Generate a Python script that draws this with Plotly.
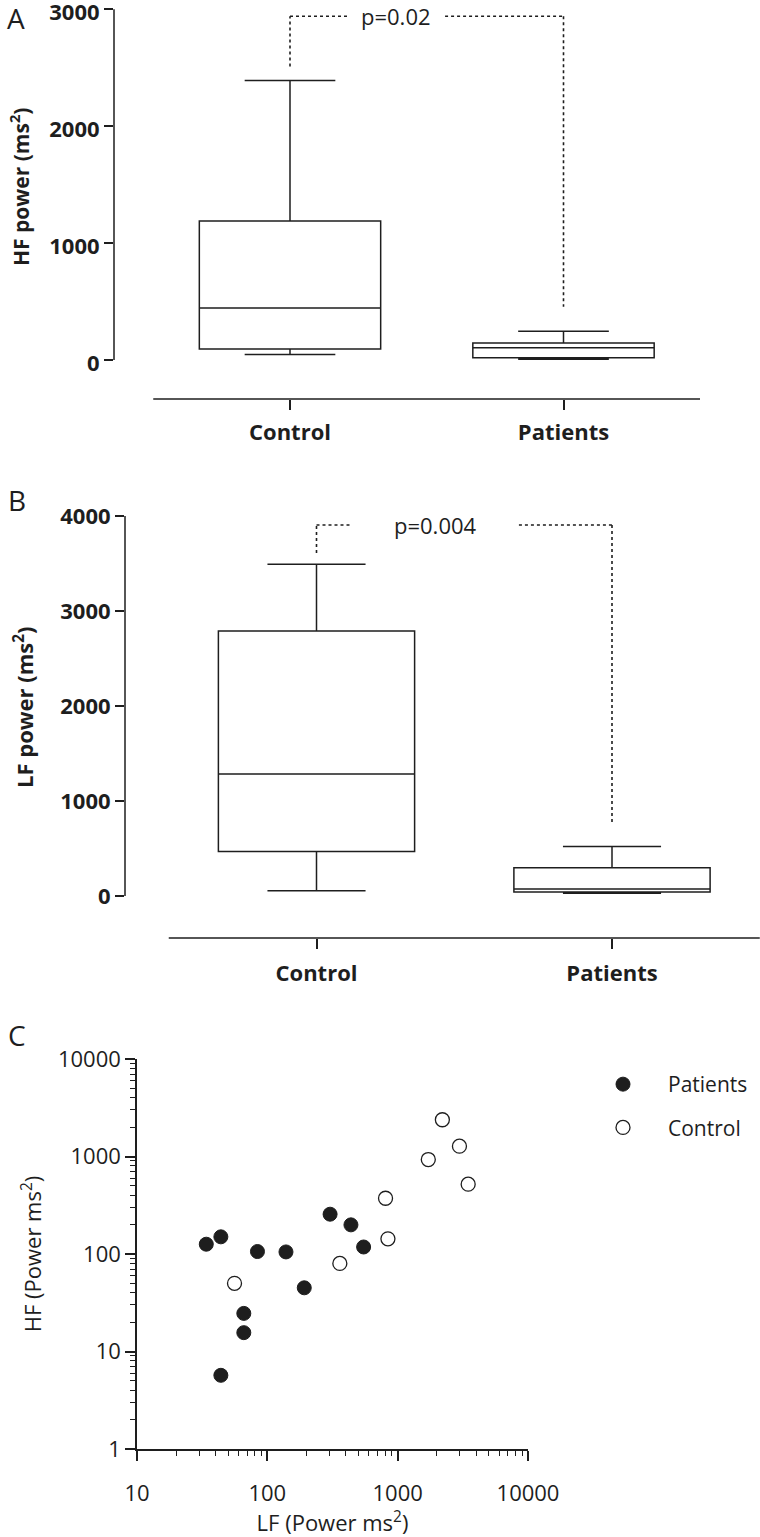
import plotly.graph_objects as go

W, H = 760, 1537

# ---------------- data ----------------
groups = ["Control", "Patients"]

# Panel A: HF power (ms^2)
hf_q1 = [94, 20]
hf_median = [445, 105]
hf_q3 = [1189, 145]
hf_lower = [46, 6]
hf_upper = [2390, 245]
hf_p_text = "p=0.02"
hf_bracket_top = 2940
hf_bracket_left_bottom = 2510
hf_bracket_right_bottom = 456
hf_yticks = [0, 1000, 2000, 3000]

# Panel B: LF power (ms^2)
lf_q1 = [468, 43]
lf_median = [1284, 75]
lf_q3 = [2789, 298]
lf_lower = [56, 30]
lf_upper = [3491, 520]
lf_p_text = "p=0.004"
lf_bracket_top = 3905
lf_bracket_left_bottom = 3610
lf_bracket_right_bottom = 747
lf_yticks = [0, 1000, 2000, 3000, 4000]

# Panel C: LF vs HF scatter
patients_lf = [34, 44, 84, 139, 192, 66, 66, 44, 303, 438, 548]
patients_hf = [126, 150, 106, 105, 45, 24.6, 15.6, 5.7, 256, 199, 118]
control_lf = [56, 360, 807, 842, 1718, 2203, 2979, 3475]
control_hf = [50, 80, 373, 143, 931, 2381, 1277, 520]
log_ticks = [1, 10, 100, 1000, 10000]
log_ticktext = ["1", "10", "100", "1000", "10000"]

# ---------------- helpers ----------------
def px_x(p):
    return p / W

def px_y(p):
    return 1 - p / H

INK = "#1e1e1e"
FONT = "Open Sans"
LW = 1.5

fig = go.Figure()

def box_panel(xa, ya, q1, med, q3, lo, hi, width):
    fig.add_trace(go.Box(
        x=groups, q1=q1, median=med, q3=q3, lowerfence=lo, upperfence=hi,
        width=width, whiskerwidth=0.5, fillcolor="white",
        line=dict(color=INK, width=LW), boxpoints=False,
        showlegend=False, xaxis=xa, yaxis=ya, hoverinfo="skip"))

box_panel("x", "y", hf_q1, hf_median, hf_q3, hf_lower, hf_upper, 0.663)
box_panel("x2", "y2", lf_q1, lf_median, lf_q3, lf_lower, lf_upper, 0.664)

# Panel C traces
fig.add_trace(go.Scatter(
    x=patients_lf, y=patients_hf, mode="markers", name="Patients",
    legendgroup="p",
    marker=dict(size=14, color=INK, line=dict(color=INK, width=1)),
    xaxis="x3", yaxis="y3"))
fig.add_trace(go.Scatter(
    x=control_lf, y=control_hf, mode="markers", name="Control",
    legendgroup="c",
    marker=dict(size=14, color="white", line=dict(color=INK, width=1.3)),
    xaxis="x3", yaxis="y3"))

# ---------------- axes geometry ----------------
# Panel A: y axis at px 114, categories at 290 / 563.5, 3000 at px 9.3, 0 at px 360, x-line at px 399
a_sp = 563.5 - 290
a_range_x = [-(290 - 114) / a_sp, 1 + (700 - 563.5) / a_sp]
a_per_px = 3000 / (360 - 9.3)
a_top_px = 5
a_range_y = [-(399 - 360) * a_per_px, (360 - a_top_px) * a_per_px]

# Panel B: y axis at px 125, categories at 316.5 / 612, 4000 at px 516, 0 at px 896, x-line at px 938
b_sp = 612 - 316.5
b_range_x = [-(316.5 - 125) / b_sp, 1 + (760 - 612) / b_sp]
b_per_px = 4000 / (896 - 516)
b_top_px = 510
b_range_y = [-(938 - 896) * b_per_px, (896 - b_top_px) * b_per_px]

bold_tick = dict(family=FONT, size=22, color=INK, weight="bold")
reg_tick = dict(family=FONT, size=22, color=INK)

common = dict(showgrid=False, zeroline=False, automargin=False, fixedrange=True,
              ticklabeloverflow="allow")

fig.update_layout(
    xaxis=dict(domain=[px_x(114), px_x(700)], range=a_range_x, anchor="y",
               type="category", showline=False, ticks="outside", ticklen=10,
               tickwidth=LW, tickcolor=INK, tickfont=bold_tick,
               ticklabelstandoff=4, **common),
    yaxis=dict(domain=[px_y(399), px_y(a_top_px)], range=a_range_y, anchor="x",
               showline=False, ticks="outside", ticklen=9, tickwidth=LW,
               tickcolor=INK, tickvals=hf_yticks, tickfont=bold_tick,
               ticklabelshift=3, **common),
    xaxis2=dict(domain=[px_x(125), px_x(760)], range=b_range_x, anchor="y2",
                type="category", showline=False, ticks="outside", ticklen=10,
                tickwidth=LW, tickcolor=INK, tickfont=bold_tick,
                ticklabelstandoff=6, **common),
    yaxis2=dict(domain=[px_y(938), px_y(b_top_px)], range=b_range_y, anchor="x2",
                showline=False, ticks="outside", ticklen=9, tickwidth=LW,
                tickcolor=INK, tickvals=lf_yticks, tickfont=bold_tick, **common),
    xaxis3=dict(domain=[px_x(137), px_x(528)], type="log", range=[1, 4],
                anchor="y3", showline=True, linecolor=INK, linewidth=LW,
                ticks="outside", ticklen=10, tickwidth=LW, tickcolor=INK,
                tickvals=log_ticks[1:], ticktext=log_ticktext[1:],
                tickfont=reg_tick, ticklabelstandoff=14,
                minor=dict(ticks="outside", ticklen=5, tickwidth=1.2,
                           tickcolor=INK, dtick="D1", showgrid=False),
                title=dict(text="LF (Power ms<sup>2</sup>)",
                           font=dict(family=FONT, size=22, color=INK),
                           standoff=12),
                **common),
    yaxis3=dict(domain=[px_y(1449), px_y(1059)], type="log", range=[0, 4],
                anchor="x3", showline=True, linecolor=INK, linewidth=LW,
                ticks="outside", ticklen=10, tickwidth=LW, tickcolor=INK,
                tickvals=log_ticks, ticktext=log_ticktext, tickfont=reg_tick,
                minor=dict(ticks="outside", ticklen=5, tickwidth=1.2,
                           tickcolor=INK, dtick="D1", showgrid=False),
                title=dict(text="HF (Power ms<sup>2</sup>)",
                           font=dict(family=FONT, size=22, color=INK),
                           standoff=10),
                **common),
)

shapes = []
# category axis lines and value axis lines for box panels
for xa, ya, top in (("x", "y", 3000), ("x2", "y2", 4000)):
    shapes.append(dict(type="line", xref=xa, yref=ya + " domain", x0=-0.5, x1=1.5,
                       y0=0, y1=0, line=dict(color=INK, width=LW)))
    shapes.append(dict(type="line", xref=xa + " domain", yref=ya, x0=0, x1=0,
                       y0=0, y1=top, line=dict(color=INK, width=LW)))

dot = dict(color=INK, width=1.6, dash="dot")
# bracket A
shapes += [
    dict(type="line", xref="x", yref="y", x0=0, x1=0, y0=hf_bracket_left_bottom, y1=hf_bracket_top, line=dot),
    dict(type="line", xref="x", yref="y", x0=0, x1=0.212, y0=hf_bracket_top, y1=hf_bracket_top, line=dot),
    dict(type="line", xref="x", yref="y", x0=0.567, x1=1, y0=hf_bracket_top, y1=hf_bracket_top, line=dot),
    dict(type="line", xref="x", yref="y", x0=1, x1=1, y0=hf_bracket_top, y1=hf_bracket_right_bottom, line=dot),
]
# bracket B
shapes += [
    dict(type="line", xref="x2", yref="y2", x0=0, x1=0, y0=lf_bracket_left_bottom, y1=lf_bracket_top, line=dot),
    dict(type="line", xref="x2", yref="y2", x0=0, x1=0.12, y0=lf_bracket_top, y1=lf_bracket_top, line=dot),
    dict(type="line", xref="x2", yref="y2", x0=0.685, x1=1, y0=lf_bracket_top, y1=lf_bracket_top, line=dot),
    dict(type="line", xref="x2", yref="y2", x0=1, x1=1, y0=lf_bracket_top, y1=lf_bracket_right_bottom, line=dot),
]
fig.update_layout(shapes=shapes)

annotations = [
    dict(text=hf_p_text, xref="x", yref="y", x=0.388, y=hf_bracket_top, showarrow=False,
         font=dict(family=FONT, size=22, color=INK), yanchor="middle"),
    dict(text=lf_p_text, xref="x2", yref="y2", x=0.401, y=lf_bracket_top, showarrow=False,
         font=dict(family=FONT, size=22, color=INK), yanchor="middle"),
    dict(text="HF power (ms<sup>2</sup>)", xref="paper", yref="paper",
         x=px_x(19), y=px_y(187), textangle=-90, showarrow=False,
         xanchor="center", yanchor="middle",
         font=dict(family=FONT, size=21, color=INK, weight="bold")),
    dict(text="LF power (ms<sup>2</sup>)", xref="paper", yref="paper",
         x=px_x(24), y=px_y(707), textangle=-90, showarrow=False,
         xanchor="center", yanchor="middle",
         font=dict(family=FONT, size=22, color=INK, weight="bold")),
    dict(text="A", xref="paper", yref="paper", x=px_x(16), y=px_y(18),
         xanchor="center", yanchor="middle",
         showarrow=False, font=dict(family=FONT, size=28, color=INK)),
    dict(text="B", xref="paper", yref="paper", x=px_x(17), y=px_y(500),
         xanchor="center", yanchor="middle",
         showarrow=False, font=dict(family=FONT, size=28, color=INK)),
    dict(text="C", xref="paper", yref="paper", x=px_x(17), y=px_y(1035),
         xanchor="center", yanchor="middle",
         showarrow=False, font=dict(family=FONT, size=28, color=INK)),
]
fig.update_layout(annotations=annotations)

fig.update_layout(
    width=W, height=H,
    margin=dict(l=0, r=0, t=0, b=0),
    paper_bgcolor="white", plot_bgcolor="white",
    font=dict(family=FONT, color=INK),
    showlegend=True,
    legend=dict(x=px_x(578), y=px_y(1064), xanchor="left", yanchor="top",
                font=dict(family=FONT, size=21, color=INK),
                itemwidth=80, tracegroupgap=13, bgcolor="rgba(0,0,0,0)"),
)

fig.write_html("out.html",
               config={"displayModeBar": False},
               post_script="document.body.style.margin='0';document.body.style.padding='0';")
